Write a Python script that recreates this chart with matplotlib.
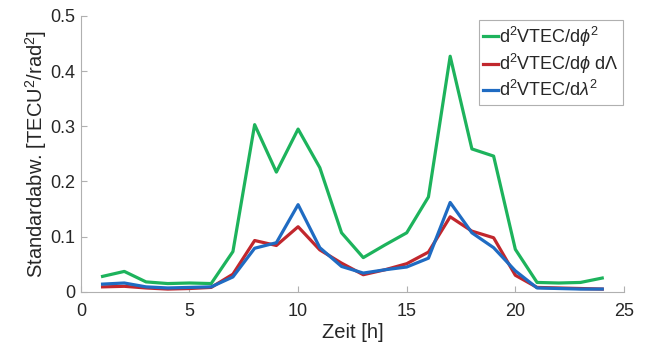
import numpy as np
import matplotlib
matplotlib.use('Agg')
import matplotlib.pyplot as plt

plt.rcParams['font.family'] = ['Liberation Sans', 'DejaVu Sans']
plt.rcParams['mathtext.fontset'] = 'custom'
plt.rcParams['mathtext.rm'] = 'Liberation Sans'
plt.rcParams['mathtext.it'] = 'Liberation Sans:italic'

# Stunden des Tages
hours = np.arange(1, 25)

# Standardabweichungen der zweiten Ableitungen
std_phiphi = [0.028, 0.037, 0.018, 0.015, 0.016, 0.015, 0.073, 0.303, 0.217, 0.295,
              0.225, 0.107, 0.062, 0.085, 0.107, 0.172, 0.427, 0.259, 0.246, 0.077,
              0.017, 0.016, 0.017, 0.025]
std_philam = [0.009, 0.010, 0.007, 0.005, 0.006, 0.008, 0.032, 0.093, 0.084, 0.118,
              0.076, 0.052, 0.031, 0.040, 0.051, 0.072, 0.136, 0.110, 0.098, 0.030,
              0.008, 0.007, 0.006, 0.005]
std_lamlam = [0.014, 0.016, 0.009, 0.007, 0.008, 0.009, 0.027, 0.079, 0.089, 0.158,
              0.080, 0.046, 0.034, 0.040, 0.045, 0.061, 0.162, 0.107, 0.080, 0.038,
              0.007, 0.006, 0.005, 0.005]

labels = [r'd$^2$VTEC/d$\phi^2$',
          r'd$^2$VTEC/d$\phi$ d$\Lambda$',
          r'd$^2$VTEC/d$\lambda^2$']
colors = ['#1db35c', '#c1272d', '#1f6bc2']

fig = plt.figure(figsize=(6.52, 3.47), dpi=100)
ax = fig.add_axes([0.124, 0.159, 0.833, 0.795])

for y, lab, c in zip([std_phiphi, std_philam, std_lamlam], labels, colors):
    ax.plot(hours, y, color=c, lw=2.3, label=lab)

ax.set_xlim(0, 25)
ax.set_ylim(0, 0.5)
ax.set_xticks([0, 5, 10, 15, 20, 25])
ax.set_yticks([0, 0.1, 0.2, 0.3, 0.4, 0.5])
ax.set_yticklabels(['0', '0.1', '0.2', '0.3', '0.4', '0.5'])

for s in ['top', 'right']:
    ax.spines[s].set_visible(False)
for s in ['left', 'bottom']:
    ax.spines[s].set_color('#b0b0b0')
    ax.spines[s].set_linewidth(0.8)
ax.tick_params(direction='in', length=4, color='#b0b0b0', labelsize=13,
               labelcolor='#262626')
ax.tick_params(axis='x', pad=8)
ax.tick_params(axis='y', pad=4)

ax.set_xlabel('Zeit [h]', fontsize=14.5, color='#262626', labelpad=2)
ax.set_ylabel(r'Standardabw. [TECU$^2$/rad$^2$]', fontsize=14.5, color='#262626',
              labelpad=1)

leg = ax.legend(loc='upper right', bbox_to_anchor=(0.998, 0.985), fontsize=13,
                handlelength=0.8, handletextpad=0.05, borderpad=0.25,
                labelspacing=0.2, fancybox=False, framealpha=1,
                edgecolor='#b0b0b0', borderaxespad=0.0)
leg.get_frame().set_linewidth(0.8)
for t in leg.get_texts():
    t.set_color('#262626')

fig.savefig('out.png', dpi=100)
